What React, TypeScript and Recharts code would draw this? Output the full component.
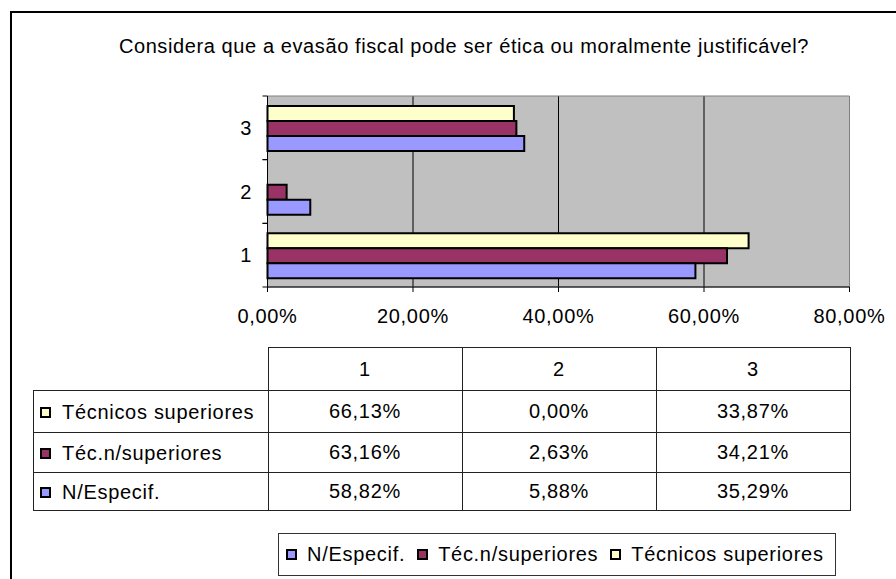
import React from 'react';
import { BarChart, Bar, XAxis, YAxis, CartesianGrid, ReferenceArea } from 'recharts';

const TITLE = 'Considera que a evasão fiscal pode ser ética ou moralmente justificável?';
const CATEGORIES = ['1', '2', '3'];
const TECNICOS_SUP = [66.13, 0, 33.87];
const TEC_N_SUP = [63.16, 2.63, 34.21];
const N_ESPECIF = [58.82, 5.88, 35.29];
const X_TICKS = [0, 20, 40, 60, 80];

// top-to-bottom order inside each band, and the table rows
const SERIES = [
  { key: 'tecSup', name: 'Técnicos superiores', color: '#FFFFCC', values: TECNICOS_SUP },
  { key: 'tecNSup', name: 'Téc.n/superiores', color: '#993366', values: TEC_N_SUP },
  { key: 'nEsp', name: 'N/Especif.', color: '#9999FF', values: N_ESPECIF },
];
// legend runs the other way
const LEGEND = [...SERIES].reverse();

const data = CATEGORIES.map((name, i) => {
  const row: Record<string, string | number> = { name };
  SERIES.forEach((s) => {
    row[s.key] = s.values[i];
  });
  return row;
});

const W = 896;
const H = 579;
const PLOT_LEFT = 267.5;
const PLOT_RIGHT = 849.5;
const PLOT_TOP = 96;
const PLOT_BOTTOM = 287;
const BAND = (PLOT_BOTTOM - PLOT_TOP) / CATEGORIES.length;
const FONT = '"Liberation Sans", Arial, sans-serif';
const FS = 20;
const LS = 0.7;

const pct = (v: number) => v.toFixed(2).replace('.', ',') + '%';

const YTick = (props: any) => {
  const { x, y, payload } = props;
  return (
    <g>
      <line x1={PLOT_LEFT - 5} x2={PLOT_LEFT} y1={y - BAND / 2} y2={y - BAND / 2} stroke="#000" />
      <line x1={PLOT_LEFT - 5} x2={PLOT_LEFT} y1={y + BAND / 2} y2={y + BAND / 2} stroke="#000" />
      <text x={x} y={y} dy="0.355em" textAnchor="end" fill="#000" fontSize={FS} fontFamily={FONT}>
        {payload.value}
      </text>
    </g>
  );
};

const XTick = (props: any) => {
  const { x, y, payload } = props;
  return (
    <text x={x} y={y} dy="0.71em" textAnchor="middle" fill="#000" fontSize={FS} fontFamily={FONT} letterSpacing={LS}>
      {pct(payload.value)}
    </text>
  );
};

const Swatch = ({ color }: { color: string }) => (
  <span
    style={{
      display: 'inline-block',
      width: 11,
      height: 11,
      boxSizing: 'border-box',
      border: '2px solid #000',
      background: color,
    }}
  />
);

const cell: React.CSSProperties = {
  border: '1px solid #222',
  padding: 0,
  textAlign: 'center',
};

export default function App() {
  return (
    <div
      style={{
        position: 'absolute',
        left: 0,
        top: 0,
        width: W,
        height: H,
        overflow: 'hidden',
        background: '#fff',
        fontFamily: FONT,
        fontSize: FS,
        letterSpacing: LS,
        color: '#000',
      }}
    >
      <div
        style={{
          position: 'absolute',
          left: 10,
          top: 11,
          width: 1000,
          height: 1000,
          borderLeft: '2px solid #000',
          borderTop: '2px solid #000',
        }}
      />
      <div style={{ position: 'absolute', left: 10, top: 35, width: 908, textAlign: 'center', lineHeight: '22px', letterSpacing: 0.6 }}>
        {TITLE}
      </div>

      <div style={{ position: 'absolute', left: 0, top: 0 }}>
        <BarChart
          width={W}
          height={H}
          data={data}
          layout="vertical"
          barCategoryGap={10}
          barGap={0}
          margin={{ top: PLOT_TOP, right: W - PLOT_RIGHT, left: PLOT_LEFT - 60, bottom: H - PLOT_BOTTOM - 30 }}
        >
          <CartesianGrid horizontal={false} stroke="#000" fill="#C0C0C0" fillOpacity={1} />
          <ReferenceArea x1={0} x2={80} stroke="#808080" fill="none" fillOpacity={0} />
          <XAxis
            type="number"
            domain={[0, 80]}
            ticks={X_TICKS}
            height={30}
            tickSize={5}
            tickMargin={17}
            stroke="#000"
            tick={<XTick />}
          />
          <YAxis
            type="category"
            dataKey="name"
            reversed
            width={60}
            tickSize={5}
            tickMargin={10.5}
            tickLine={false}
            stroke="#000"
            tick={<YTick />}
          />
          {SERIES.map((s) => (
            <Bar
              key={s.key}
              dataKey={s.key}
              name={s.name}
              fill={s.color}
              stroke="#000"
              strokeWidth={2}
              isAnimationActive={false}
            />
          ))}
        </BarChart>
      </div>

      <table
        style={{
          position: 'absolute',
          left: 33,
          top: 347,
          borderCollapse: 'collapse',
          tableLayout: 'fixed',
          width: PLOT_RIGHT - 33,
        }}
      >
        <colgroup>
          <col style={{ width: PLOT_LEFT - 33 }} />
          {CATEGORIES.map((c) => (
            <col key={c} style={{ width: (PLOT_RIGHT - PLOT_LEFT) / CATEGORIES.length }} />
          ))}
        </colgroup>
        <tbody>
          <tr style={{ height: 43 }}>
            <td style={{ padding: 0 }} />
            {CATEGORIES.map((c) => (
              <td key={c} style={cell}>
                {c}
              </td>
            ))}
          </tr>
          {SERIES.map((s, r) => (
            <tr key={s.key} style={{ height: [42, 40, 38][r] }}>
              <td style={{ ...cell, textAlign: 'left', whiteSpace: 'nowrap' }}>
                <span style={{ display: 'inline-flex', alignItems: 'center', paddingLeft: 6 }}>
                  <Swatch color={s.color} />
                  <span style={{ marginLeft: 11 }}>{s.name}</span>
                </span>
              </td>
              {s.values.map((v, i) => (
                <td key={i} style={cell}>
                  {pct(v)}
                </td>
              ))}
            </tr>
          ))}
        </tbody>
      </table>

      <div
        style={{
          position: 'absolute',
          left: 278,
          top: 533,
          width: 558,
          height: 43,
          boxSizing: 'border-box',
          border: '1px solid #333',
          display: 'flex',
          alignItems: 'center',
          paddingLeft: 7,
          whiteSpace: 'nowrap',
        }}
      >
        {LEGEND.map((s) => (
          <span key={s.key} style={{ display: 'inline-flex', alignItems: 'center', marginRight: 12 }}>
            <Swatch color={s.color} />
            <span style={{ marginLeft: 10 }}>{s.name}</span>
          </span>
        ))}
      </div>
    </div>
  );
}
